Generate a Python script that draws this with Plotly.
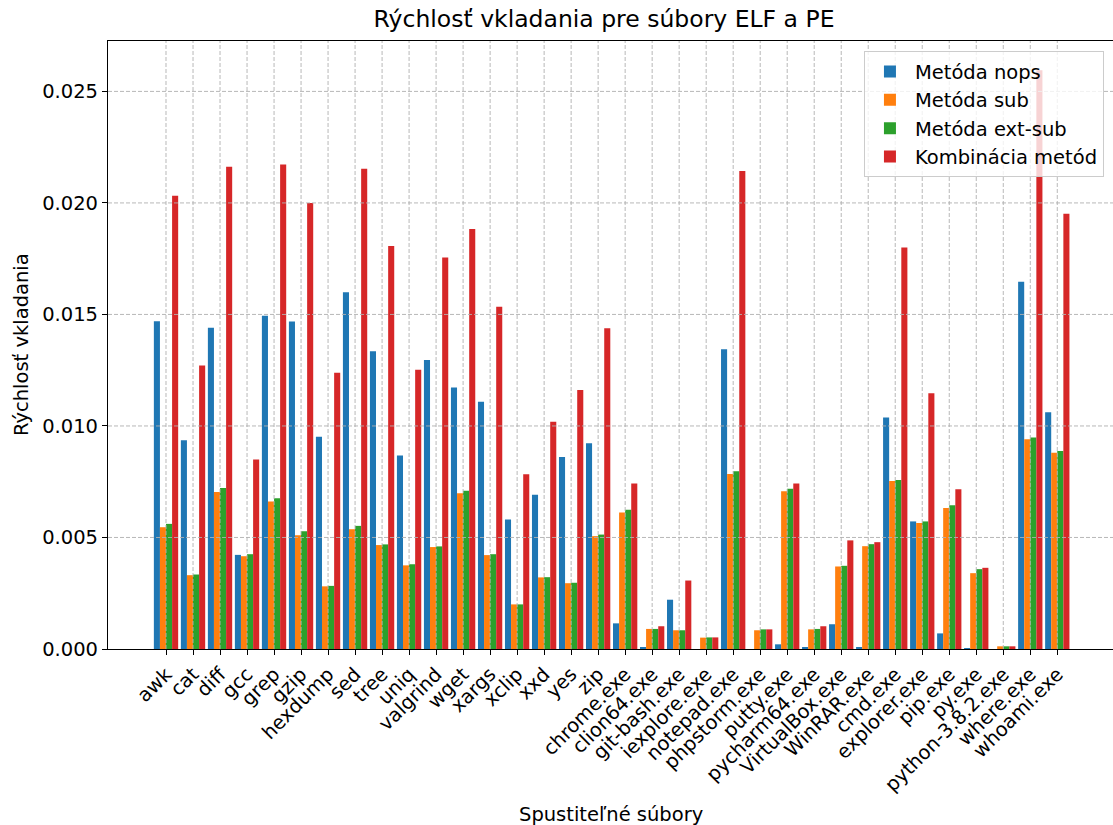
import plotly.graph_objects as go

categories = ["awk", "cat", "diff", "gcc", "grep", "gzip", "hexdump", "sed", "tree", "uniq",
              "valgrind", "wget", "xargs", "xclip", "xxd", "yes", "zip", "chrome.exe",
              "clion64.exe", "git-bash.exe", "iexplore.exe", "notepad.exe", "phpstorm.exe",
              "putty.exe", "pycharm64.exe", "VirtualBox.exe", "WinRAR.exe", "cmd.exe",
              "explorer.exe", "pip.exe", "py.exe", "python-3.8.2.exe", "where.exe", "whoami.exe"]

nops = [0.01470, 0.00936, 0.01440, 0.00422, 0.01494, 0.01468, 0.00952, 0.01600, 0.01335, 0.00868,
        0.01296, 0.01173, 0.01109, 0.00581, 0.00692, 0.00861, 0.00923, 0.00115,
        0.00009, 0.00221, 0.0, 0.01344, 0.0,
        0.00021, 0.00009, 0.00111, 0.00006, 0.01038,
        0.00572, 0.00070, 0.00004, 0.0, 0.01647, 0.01062]

sub = [0.00546, 0.00331, 0.00704, 0.00416, 0.00661, 0.00510, 0.00281, 0.00537, 0.00466, 0.00375,
       0.00457, 0.00698, 0.00421, 0.00200, 0.00321, 0.00295, 0.00506, 0.00612,
       0.00090, 0.00084, 0.00051, 0.00785, 0.00084,
       0.00707, 0.00088, 0.00370, 0.00461, 0.00753,
       0.00565, 0.00632, 0.00340, 0.00012, 0.00940, 0.00880]

ext_sub = [0.00561, 0.00334, 0.00722, 0.00425, 0.00676, 0.00528, 0.00283, 0.00552, 0.00469, 0.00380,
           0.00460, 0.00709, 0.00425, 0.00200, 0.00322, 0.00297, 0.00513, 0.00624,
           0.00090, 0.00084, 0.00052, 0.00797, 0.00088,
           0.00719, 0.00090, 0.00373, 0.00470, 0.00758,
           0.00572, 0.00645, 0.00358, 0.00012, 0.00948, 0.00888]

combined = [0.02032, 0.01271, 0.02162, 0.00850, 0.02172, 0.02000, 0.01239, 0.02153, 0.01807, 0.01252,
            0.01755, 0.01883, 0.01534, 0.00783, 0.01019, 0.01161, 0.01438, 0.00742,
            0.00102, 0.00307, 0.00052, 0.02143, 0.00088,
            0.00742, 0.00102, 0.00487, 0.00479, 0.01800,
            0.01147, 0.00716, 0.00364, 0.00012, 0.02595, 0.01952]

series_names = ["Metóda nops", "Metóda sub", "Metóda ext-sub", "Kombinácia metód"]
series_values = [nops, sub, ext_sub, combined]
colors = ["#1f77b4", "#ff7f0e", "#2ca02c", "#d62728"]
y_ticks = [0.0, 0.005, 0.010, 0.015, 0.020, 0.025]

FONT = "DejaVu Sans"

fig = go.Figure()
for name, vals, col in zip(series_names, series_values, colors):
    fig.add_trace(go.Bar(x=categories, y=vals, name=name,
                         marker=dict(color=col, line=dict(width=0))))

# grid lines drawn above the bars (as in the reference)
shapes = []
for i, _ in enumerate(categories):
    shapes.append(dict(type="line", xref="x", yref="paper", x0=i, x1=i, y0=0, y1=1,
                       line=dict(color="rgba(176,176,176,0.9)", width=1, dash="4px,2px"),
                       layer="above"))
for t in y_ticks[1:]:
    shapes.append(dict(type="line", xref="paper", yref="y", x0=0, x1=1, y0=t, y1=t,
                       line=dict(color="rgba(176,176,176,0.9)", width=1, dash="4px,2px"),
                       layer="above"))

fig.update_layout(
    width=1113, height=825,
    margin=dict(l=108, r=0, t=41, b=176),
    paper_bgcolor="white", plot_bgcolor="white",
    font=dict(family=FONT, size=19.5, color="black"),
    barmode="group", bargap=0.1, bargroupgap=0,
    title=dict(text="Rýchlosť vkladania pre súbory ELF a PE", x=0.5427, xanchor="center",
               y=1 - 19 / 825, yanchor="middle", font=dict(size=23.5, family=FONT)),
    xaxis=dict(type="category", range=[-2.148, 35.063], showgrid=False,
               showline=True, linecolor="black", linewidth=1.2, mirror=True,
               ticks="outside", ticklen=5, tickwidth=1.1, tickcolor="black",
               tickangle=-45, tickfont=dict(size=19.5), zeroline=False),
    yaxis=dict(range=[0, 0.02726], tickvals=y_ticks, tickformat=".3f",
               showgrid=False, showline=True, linecolor="black", linewidth=1.2, mirror=False,
               ticks="outside", ticklen=5, tickwidth=1.1, tickcolor="black",
               tickfont=dict(size=19.5), zeroline=False),
    legend=dict(x=0.991, y=0.983, xanchor="right", yanchor="top",
                bgcolor="rgba(255,255,255,0.8)", bordercolor="#cccccc", borderwidth=1,
                font=dict(size=19.5), itemwidth=40),
    shapes=shapes,
    annotations=[
        dict(text="Spustiteľné súbory", xref="paper", yref="paper", x=0.5005, y=(649 - 815) / 608.3,
             xanchor="center", yanchor="middle", showarrow=False, font=dict(size=19.5)),
        dict(text="Rýchlosť vkladania", xref="paper", yref="paper", x=(21 - 108) / 1005, y=0.5,
             xanchor="center", yanchor="middle", textangle=-90, showarrow=False,
             font=dict(size=19.5)),
    ],
)

fig.write_html("out.html",
               config={"displayModeBar": False},
               post_script="document.body.style.margin='0';document.body.style.padding='0';"
                           "document.body.style.overflow='hidden';")
